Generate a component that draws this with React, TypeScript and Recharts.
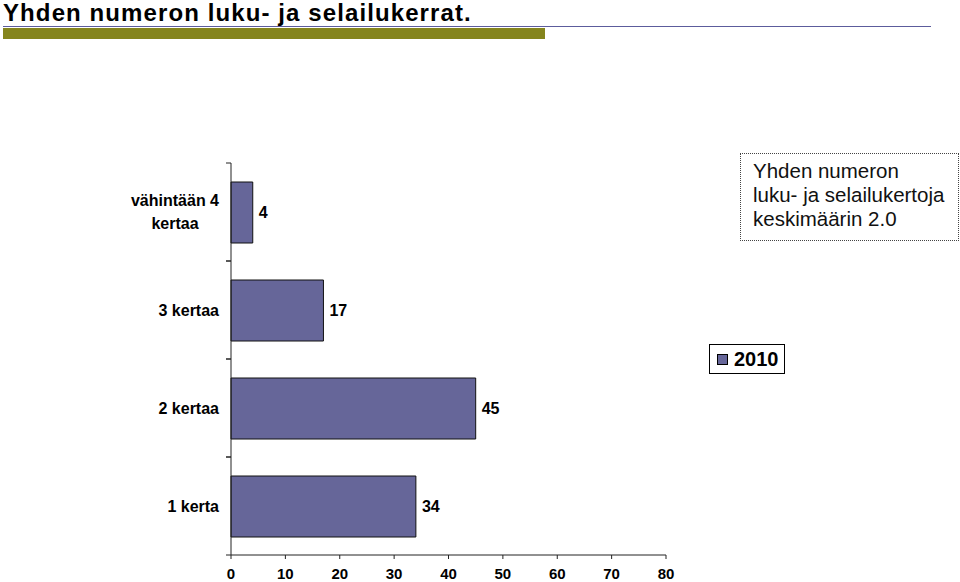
import { BarChart, Bar, XAxis, YAxis, LabelList } from 'recharts'

/* ---------- data ---------- */

const categories = ['vähintään 4\nkertaa', '3 kertaa', '2 kertaa', '1 kerta']
const values2010 = [4, 17, 45, 34]
const xTicks = [0, 10, 20, 30, 40, 50, 60, 70, 80]

const chartData = categories.map((name, i) => ({ name, v2010: values2010[i] }))

const FONT = '"Liberation Sans", Arial, sans-serif'
const BAR_FILL = '#666699'

/* ---------- helpers ---------- */

function textWidth(s: string, font: string): number {
  const c = document.createElement('canvas').getContext('2d')
  if (!c) return s.length * 8
  c.font = font
  return c.measureText(s).width
}

// category tick: single lines right-aligned, multi-line block centred; ticks on band edges
const CategoryTick = (props: any) => {
  const { y, payload } = props
  const axisX = 231
  const lines: string[] = String(payload.value).split('\n')
  const half = 49
  const font = `bold 16px ${FONT}`
  const right = 219
  const maxW = Math.max(...lines.map((l) => textWidth(l, font)))
  const lh = 23
  const y0 = y - ((lines.length - 1) * lh) / 2
  return (
    <g>
      <line x1={axisX - 5} x2={axisX} y1={y - half} y2={y - half} stroke="#222" strokeWidth={1} />
      <line x1={axisX - 5} x2={axisX} y1={y + half} y2={y + half} stroke="#222" strokeWidth={1} />
      {lines.map((l, i) => (
        <text
          key={i}
          x={lines.length > 1 ? right - maxW / 2 : right}
          y={y0 + i * lh}
          dy="0.36em"
          textAnchor={lines.length > 1 ? 'middle' : 'end'}
          fontFamily={FONT}
          fontWeight="bold"
          fontSize={16}
          fill="#000"
        >
          {l}
        </text>
      ))}
    </g>
  )
}

/* ---------- component ---------- */

export default function App() {
  return (
    <div style={{ position: 'absolute', left: 0, top: 0, width: 960, height: 582, background: '#fff', overflow: 'hidden' }}>
      <div
        style={{
          position: 'absolute',
          left: 3,
          top: 0,
          fontFamily: FONT,
          fontWeight: 'bold',
          fontSize: 24,
          lineHeight: '26px',
          letterSpacing: 1.1,
          color: '#000',
          whiteSpace: 'nowrap',
        }}
      >
        Yhden numeron luku- ja selailukerrat.
      </div>
      <div style={{ position: 'absolute', left: 3, top: 26, width: 928, height: 1, background: '#5c5c9c' }} />
      <div style={{ position: 'absolute', left: 3, top: 28, width: 542, height: 11, background: '#85851d' }} />

      <BarChart
        width={960}
        height={582}
        layout="vertical"
        data={chartData}
        margin={{ top: 163, right: 294, bottom: 0, left: 0 }}
      >
        <XAxis
          type="number"
          domain={[0, 80]}
          ticks={xTicks}
          interval={0}
          height={27}
          tickSize={4}
          tickLine={{ stroke: '#222' }}
          axisLine={{ stroke: '#222' }}
          tick={{ fontFamily: FONT, fontWeight: 'bold', fontSize: 15, fill: '#000' }}
          tickMargin={9}
        />
        <YAxis
          type="category"
          dataKey="name"
          width={231}
          tickLine={false}
          axisLine={{ stroke: '#222' }}
          tick={<CategoryTick />}
          interval={0}
        />
        <Bar dataKey="v2010" name="2010" fill={BAR_FILL} stroke="#111" strokeWidth={1} barSize={61} isAnimationActive={false}>
          <LabelList
            dataKey="v2010"
            position="right"
            offset={6}
            style={{ fontFamily: FONT, fontWeight: 'bold', fontSize: 16, fill: '#000' }}
          />
        </Bar>
      </BarChart>

      {/* legend */}
      <div
        style={{
          position: 'absolute',
          left: 709,
          top: 344,
          border: '1px solid #000',
          width: 76,
          height: 30,
          display: 'flex',
          alignItems: 'center',
          boxSizing: 'border-box',
          paddingLeft: 7,
          background: '#fff',
        }}
      >
        <span style={{ width: 11, height: 11, background: BAR_FILL, border: '1px solid #000', boxSizing: 'border-box', display: 'inline-block', marginRight: 6 }} />
        <span style={{ fontFamily: FONT, fontWeight: 'bold', fontSize: 20, color: '#000' }}>2010</span>
      </div>

      <div
        style={{
          position: 'absolute',
          left: 740,
          top: 153,
          width: 219,
          height: 88,
          border: '1px dotted #444',
          boxSizing: 'border-box',
          padding: '5px 0 0 12px',
          fontFamily: FONT,
          fontSize: 20.5,
          lineHeight: '24px',
          color: '#111',
          background: '#fff',
          whiteSpace: 'nowrap',
        }}
      >
        Yhden numeron
        <br />
        luku- ja selailukertoja
        <br />
        keskimäärin 2.0
      </div>
    </div>
  )
}
